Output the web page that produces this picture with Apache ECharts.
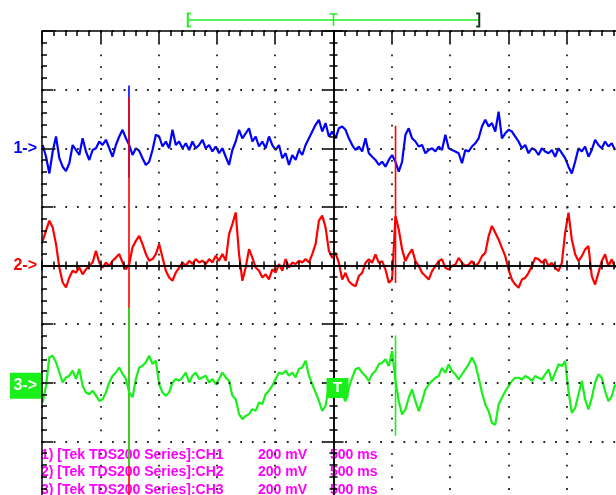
<!DOCTYPE html>
<html>
<head>
<meta charset="utf-8">
<script src="https://cdn.jsdelivr.net/npm/echarts@6/dist/echarts.min.js"></script>
<style>
  html, body { margin: 0; padding: 0; background: #fff; }
  #chart { width: 616px; height: 495px; }
</style>
</head>
<body>
<div id="chart"></div>
<script>
// Record timing: uniform sampling across the screen (ms relative to trigger)
const sampleStartMs = -2494;
const sampleStepMs = 28.54;

// Channel samples, mV relative to each channel's ground marker
const ch1 = [
  11,-29,-86,-11,40,-34,-63,-78,-51,11,
  -6,-23,34,-11,-40,-6,0,23,11,29,
  0,-29,11,40,63,34,11,-23,0,-9,
  -34,-57,-46,-6,46,40,6,23,0,63,
  11,23,0,17,-6,23,0,11,29,0,
  11,-11,6,-17,0,-29,-57,-6,23,63,
  34,51,68,23,40,6,23,0,40,11,
  -6,11,-34,-17,-57,-23,-40,-6,-23,11,
  34,57,80,97,57,86,40,
  57,34,68,74,63,34,11,-6,6,-11,
  34,-17,-29,-40,-57,-46,-63,-40,-23,-46,
  -80,-46,46,68,34,23,6,11,-17,-6,
  0,-11,6,-6,46,0,-6,-11,-17,-51,
  -6,-11,6,17,34,74,97,74,86,57,
  125,34,51,63,57,40,23,0,11,-17,
  0,-6,-23,0,-11,-17,-6,-29,0,-17,
  -34,-63,-86,-46,0,-11,6,-29,-6,29,
  11,0,23,6,17,-6
];
const ch2 = [
  84,119,153,130,73,-7,-58,-75,-41,-18,
  -24,-7,-30,-13,-1,10,50,10,-7,10,
  -1,16,27,39,10,-13,5,62,84,101,
  73,39,16,22,39,73,27,-18,-41,-52,
  -24,-7,10,-1,16,5,22,10,16,5,
  22,10,33,16,39,16,107,141,181,39,
  -52,-7,56,27,-7,-18,-41,-30,-47,-13,
  -24,5,-18,22,-7,10,5,16,10,22,
  10,39,73,153,170,130,50,
  26,43,9,-48,-25,-54,-65,-71,-36,-25,
  9,21,9,38,9,15,-14,-59,-48,169,
  123,55,15,38,55,15,-2,-25,-36,-48,
  -19,-2,15,21,-8,-14,-2,3,26,9,
  -2,3,15,-2,9,32,43,100,135,112,
  89,60,32,-14,-48,-65,-76,-48,-42,-25,
  -2,26,21,9,21,-2,9,-8,-19,9,
  112,180,89,38,15,32,55,66,-36,-65,
  -25,15,38,-2,21,-8
];
const ch3 = [
  -67,-10,87,92,70,35,1,18,24,41,
  13,47,-10,-33,-39,-27,-44,-62,-56,-33,
  1,24,35,52,30,13,-33,-50,13,52,
  58,70,92,64,75,-5,-33,-44,-33,1,
  13,7,18,35,1,24,35,13,18,24,
  1,13,-5,13,35,18,7,-44,-56,-107,
  -124,-113,-107,-90,-96,-67,-73,-39,-27,-10,
  13,35,30,41,24,35,18,47,52,75,
  24,-5,-33,-62,-96,-79,-10,
  -51,-40,-23,-40,-63,-17,17,46,51,34,
  23,6,29,40,63,68,80,57,108,6,
  -63,-108,-91,-51,-23,-63,-97,-63,-23,-6,
  6,17,23,51,34,63,40,29,11,29,
  46,63,86,63,17,-34,-74,-97,-137,-143,
  -74,-51,-29,-11,6,17,17,11,23,17,
  6,23,17,11,29,46,6,34,63,57,
  74,-29,-103,-86,-40,6,-57,-91,-51,0,
  29,17,-29,-63,-46,-6
];

// Single-sample glitches: [time ms, top mV, bottom mV]
const ch1Glitches = [[-1754, 214, -100]];
const ch2Glitches = [[-1754, 573, -900], [532, 477, -60]];
const ch3Glitches = [[-1754, 256, -284], [532, 161, -181]];

// Vertical position of each channel's ground (mV on the 200 mV/div screen)
const channelOffsets = [400, 0, -400];

// Readout text
const sourceName = '[Tek TDS200 Series]';
const channelNames = ['CH1', 'CH2', 'CH3'];
const voltsPerDiv = ['200 mV', '200 mV', '200 mV'];
const timePerDiv = '500 ms';
const channelTags = ['1->', '2->', '3->'];

// Horizontal window indicator and trigger
const displayWindowMs = [-1250, 1250];
const triggerTimeMs = 0;
const triggerLevelMv = -18;   // on CH3

const COLORS = ['#0000ff', '#ff0000', '#19f019'];
const MAGENTA = '#ff00ff';

const chart = echarts.init(document.getElementById('chart'), null, { renderer: 'canvas' });

function trace(values, offset) {
  return values.map((v, i) => [sampleStartMs + i * sampleStepMs, v + offset]);
}

const series = [];
[ch1, ch2, ch3].forEach((vals, c) => {
  series.push({
    type: 'line', data: trace(vals, channelOffsets[c]), showSymbol: false, z: 2,
    animation: false, lineStyle: { color: COLORS[c], width: 2.2 }, silent: true
  });
  [ch1Glitches, ch2Glitches, ch3Glitches][c].forEach(g => {
    series.push({
      type: 'line', data: [[g[0], g[1] + channelOffsets[c]], [g[0], g[2] + channelOffsets[c]]],
      showSymbol: false, z: 2, animation: false, silent: true,
      lineStyle: { color: COLORS[c], width: 1.6 }
    });
  });
});

const black = { color: '#000', width: 1.5 };
const xRange = { type: 'value', min: -2500, max: 2500, interval: 500 };
const yRange = { type: 'value', min: -800, max: 800, interval: 200 };

function centerAxis(range, pos, inside, major, minor) {
  return Object.assign({}, range, {
    position: pos, z: 3,
    axisLine: { show: true, onZero: true, onZeroAxisIndex: 0, lineStyle: black },
    axisTick: { show: true, inside: inside, length: major, lineStyle: black },
    minorTick: { show: true, splitNumber: 5, length: minor, lineStyle: black },
    axisLabel: { show: false }, splitLine: { show: false }
  });
}

chart.setOption({
  animation: false,
  backgroundColor: '#fff',
  grid: { left: 42, top: 31, width: 583, height: 469, containLabel: false, outerBoundsMode: 'none' },
  xAxis: [
    Object.assign({}, xRange, {
      position: 'top', z: 3,
      axisLine: { show: true, onZero: false, lineStyle: black },
      axisTick: { show: true, inside: true, length: 12, lineStyle: black },
      minorTick: { show: true, splitNumber: 5, length: 5, lineStyle: black },
      axisLabel: { show: false },
      splitLine: { show: true, lineStyle: { color: '#222', width: 1.8, type: [1.8, 9.92] } }
    }),
    centerAxis(xRange, 'bottom', true, 5, 4),
    centerAxis(xRange, 'bottom', false, 5, 4)
  ],
  yAxis: [
    Object.assign({}, yRange, {
      position: 'left', z: 3,
      axisLine: { show: true, onZero: false, lineStyle: black },
      axisTick: { show: true, inside: true, length: 11, lineStyle: black },
      minorTick: { show: true, splitNumber: 5, length: 5, lineStyle: black },
      axisLabel: { show: false },
      splitLine: { show: true, lineStyle: { color: '#222', width: 1.8, type: [1.8, 9.86] } }
    }),
    centerAxis(yRange, 'left', true, 10, 4),
    centerAxis(yRange, 'left', false, 10, 4)
  ],
  series: series
});

// Screen annotations placed from the axes
const px = t => chart.convertToPixel({ xAxisIndex: 0 }, t);
const py = v => chart.convertToPixel({ yAxisIndex: 0 }, v);
const FONT = 'bold 14px "Liberation Sans", Arial, sans-serif';
const graphics = [];

// Readout lines under the traces
channelNames.forEach((name, i) => {
  const y = 455 + i * 17.5;
  graphics.push(
    { type: 'text', z: 1, silent: true, style: { text: (i + 1) + ') ' + sourceName + ':' + name, x: 41, y: y, fill: MAGENTA, font: FONT, verticalAlign: 'middle' } },
    { type: 'text', z: 1, silent: true, style: { text: voltsPerDiv[i], x: 258, y: y, fill: MAGENTA, font: FONT, verticalAlign: 'middle' } },
    { type: 'text', z: 1, silent: true, style: { text: timePerDiv, x: 330, y: y, fill: MAGENTA, font: FONT, verticalAlign: 'middle' } }
  );
});

// Channel ground markers
channelTags.forEach((tag, c) => {
  const y = py(channelOffsets[c]);
  if (c === 2) {
    graphics.push(
      { type: 'rect', z: 10, silent: true, shape: { x: 10, y: y - 10, width: 31, height: 26 }, style: { fill: COLORS[2] } },
      { type: 'text', z: 11, silent: true, style: { text: tag, x: 37, y: y + 3, fill: '#fff', font: 'bold 16px "Liberation Sans", Arial, sans-serif', align: 'right', verticalAlign: 'middle' } }
    );
  } else {
    graphics.push({ type: 'text', z: 10, silent: true, style: { text: tag, x: 37, y: y, fill: COLORS[c], font: 'bold 16px "Liberation Sans", Arial, sans-serif', align: 'right', verticalAlign: 'middle' } });
  }
});

// Trigger level marker on CH3
const ty = py(channelOffsets[2] + triggerLevelMv);
const tx = px(triggerTimeMs);
graphics.push(
  { type: 'rect', z: 10, silent: true, shape: { x: tx - 7, y: ty - 10, width: 22, height: 20 }, style: { fill: COLORS[2] } },
  { type: 'text', z: 11, silent: true, style: { text: 'T', x: tx + 4, y: ty, fill: '#fff', font: 'bold 15px "Liberation Sans", Arial, sans-serif', align: 'center', verticalAlign: 'middle' } }
);

// Horizontal window bracket with trigger position
const xl = px(displayWindowMs[0]), xr = px(displayWindowMs[1]);
const bracketGreen = '#22ee22';
graphics.push(
  { type: 'line', z: 10, silent: true, shape: { x1: xl, y1: 20, x2: xr, y2: 20 }, style: { stroke: bracketGreen, lineWidth: 1.5 } },
  { type: 'polyline', z: 10, silent: true, shape: { points: [[xl + 3, 13.5], [xl, 13.5], [xl, 26.5], [xl + 3, 26.5]] }, style: { stroke: bracketGreen, lineWidth: 2, fill: null } },
  { type: 'polyline', z: 10, silent: true, shape: { points: [[xr - 3, 13.5], [xr, 13.5], [xr, 26.5], [xr - 3, 26.5]] }, style: { stroke: '#123812', lineWidth: 2, fill: null } },
  { type: 'line', z: 10, silent: true, shape: { x1: tx - 4, y1: 14, x2: tx + 4, y2: 14 }, style: { stroke: bracketGreen, lineWidth: 1.5 } },
  { type: 'line', z: 10, silent: true, shape: { x1: tx, y1: 14, x2: tx, y2: 26 }, style: { stroke: bracketGreen, lineWidth: 1.5 } }
);

chart.setOption({ graphic: graphics });
</script>
</body>
</html>
